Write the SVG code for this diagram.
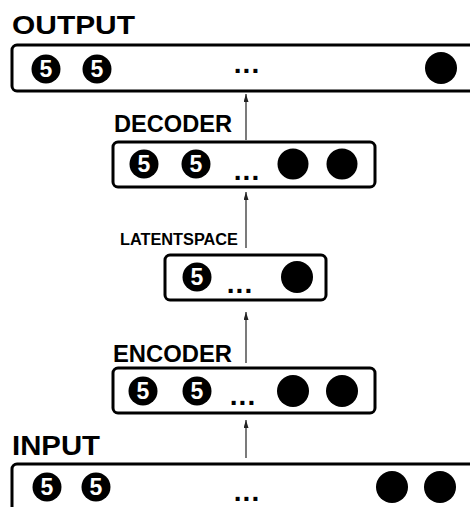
<svg xmlns="http://www.w3.org/2000/svg" width="470" height="507" viewBox="0 0 470 507">
<defs>
<marker id="ah" viewBox="0 0 8 5" refX="8" refY="2.5" markerWidth="8" markerHeight="5" orient="auto" markerUnits="userSpaceOnUse">
<path d="M0,0 L8,2.5 L0,5 Z" fill="#222"/>
</marker>
<g id="five"><circle r="14.5" fill="#000"/><text y="8" class="n">5</text></g>
</defs>
<style>
.box{fill:#fff;stroke:#000;stroke-width:3}
.lbl{font-family:"Liberation Sans",Arial,sans-serif;font-weight:bold;fill:#000}
.n{font-family:"Liberation Sans",Arial,sans-serif;font-weight:bold;font-size:23px;fill:#fff;text-anchor:middle}
.dots{font-family:"Liberation Sans",Arial,sans-serif;font-weight:bold;font-size:28px;fill:#000;text-anchor:middle;letter-spacing:1px}
.arrow{stroke:#333;stroke-width:1.3;fill:none;marker-end:url(#ah)}
</style>
<rect width="470" height="507" fill="#fff"/>
<g id="connectors">
<line class="arrow" x1="246" y1="140" x2="246" y2="94"/>
<line class="arrow" x1="246" y1="248" x2="246" y2="192"/>
<line class="arrow" x1="246" y1="363" x2="246" y2="312"/>
<line class="arrow" x1="246" y1="458" x2="246" y2="420"/>
</g>
<g id="output">
<text class="lbl" x="12" y="34" font-size="26" textLength="123" lengthAdjust="spacingAndGlyphs">OUTPUT</text>
<rect class="box" x="12" y="45" width="470" height="46" rx="5"/>
<use href="#five" x="46" y="69"/>
<use href="#five" x="97" y="69"/>
<text class="dots" x="247" y="73">...</text>
<circle cx="441" cy="68" r="16" fill="#000"/>
</g>
<g id="decoder">
<text class="lbl" x="114" y="132" font-size="23" textLength="118" lengthAdjust="spacingAndGlyphs">DECODER</text>
<rect class="box" x="113" y="142" width="262" height="45" rx="5"/>
<use href="#five" x="144" y="164"/>
<use href="#five" x="196" y="164"/>
<text class="dots" x="247" y="180">...</text>
<circle cx="293" cy="164" r="15.5" fill="#000"/>
<circle cx="342" cy="164" r="15.5" fill="#000"/>
</g>
<g id="latent">
<text class="lbl" x="120" y="245" font-size="16" textLength="118" lengthAdjust="spacingAndGlyphs">LATENTSPACE</text>
<rect class="box" x="165" y="255" width="161" height="45" rx="5"/>
<use href="#five" x="197" y="277"/>
<text class="dots" x="240" y="293">...</text>
<circle cx="297" cy="277" r="16" fill="#000"/>
</g>
<g id="encoder">
<text class="lbl" x="113" y="362" font-size="23" textLength="119" lengthAdjust="spacingAndGlyphs">ENCODER</text>
<rect class="box" x="113" y="368" width="262" height="45" rx="5"/>
<use href="#five" x="143" y="391"/>
<use href="#five" x="197" y="391"/>
<text class="dots" x="243" y="405">...</text>
<circle cx="293" cy="391" r="16" fill="#000"/>
<circle cx="342" cy="391" r="16" fill="#000"/>
</g>
<g id="input">
<text class="lbl" x="12" y="455" font-size="27" textLength="88" lengthAdjust="spacingAndGlyphs">INPUT</text>
<rect class="box" x="12" y="464" width="470" height="60" rx="5"/>
<use href="#five" x="47" y="487"/>
<use href="#five" x="96" y="487"/>
<text class="dots" x="247" y="501">...</text>
<circle cx="392" cy="487" r="16" fill="#000"/>
<circle cx="440" cy="487" r="16" fill="#000"/>
</g>
</svg>
